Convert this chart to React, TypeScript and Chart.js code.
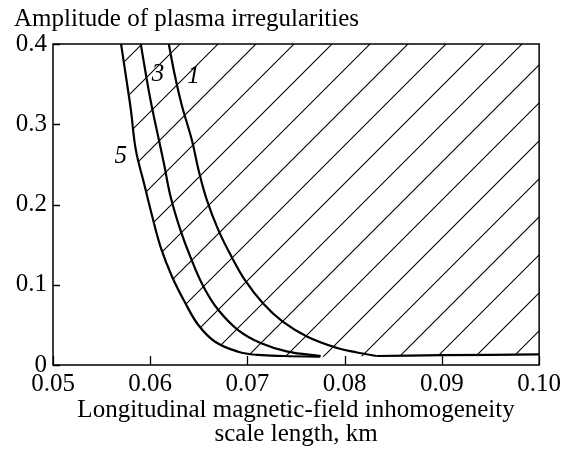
import React, { useEffect, useRef } from 'react';
import { Chart, registerables } from 'chart.js';

Chart.register(...registerables);

// Curve 5 (leftmost envelope)
const curve5X = [0.05700, 0.05751, 0.05801, 0.05852, 0.05937, 0.06021, 0.06107, 0.06225, 0.06362, 0.06497, 0.06667, 0.06904, 0.07108, 0.07380, 0.07749];
const curve5Y = [0.400, 0.359, 0.318, 0.268, 0.226, 0.185, 0.147, 0.110, 0.0769, 0.0495, 0.0290, 0.0166, 0.0125, 0.0112, 0.0103];

// Curve 3
const curve3X = [0.05903, 0.05957, 0.06013, 0.06090, 0.06141, 0.06209, 0.06311, 0.06412, 0.06548, 0.06701, 0.06904, 0.07142, 0.07413, 0.07753];
const curve3Y = [0.400, 0.361, 0.324, 0.280, 0.251, 0.210, 0.168, 0.135, 0.0976, 0.0685, 0.0436, 0.0270, 0.0166, 0.0112];

// Curve 1
const curve1X = [0.06191, 0.06253, 0.06324, 0.06429, 0.06497, 0.06581, 0.06701, 0.06836, 0.06973, 0.07159, 0.07363, 0.07617, 0.07923, 0.08126, 0.08330];
const curve1Y = [0.400, 0.361, 0.324, 0.280, 0.243, 0.206, 0.168, 0.135, 0.106, 0.0769, 0.0540, 0.0353, 0.0212, 0.0156, 0.0112];

// Common low-amplitude branch
const baseX = [0.08330, 0.09000, 0.10000];
const baseY = [0.0112, 0.0122, 0.0132];

// Ticks
const xTickValues = [0.05, 0.06, 0.07, 0.08, 0.09, 0.10];
const xTickLabels = ['0.05', '0.06', '0.07', '0.08', '0.09', '0.10'];
const yTickValues = [0, 0.1, 0.2, 0.3, 0.4];
const yTickLabels = ['0', '0.1', '0.2', '0.3', '0.4'];

// Curve labels
const curveLabels = ['5', '3', '1'];
const curveLabelX = [0.05698, 0.06079, 0.06446];
const curveLabelY = [0.2604, 0.3626, 0.360];

const titleText = 'Amplitude of plasma irregularities';
const xTitle = ['Longitudinal magnetic-field inhomogeneity', 'scale length, km'];

const FONT = '"Liberation Serif", "Times New Roman", serif';
const FS = 25;

const toPts = (xs: number[], ys: number[]) => xs.map((x, i) => ({ x, y: ys[i] }));

function makeHatch(): CanvasPattern | string {
  const s = 38;
  const c = document.createElement('canvas');
  c.width = s;
  c.height = s;
  const g = c.getContext('2d');
  if (!g) return 'rgba(0,0,0,0)';
  g.strokeStyle = '#000';
  g.lineWidth = 1.1;
  const off = 18;
  g.beginPath();
  for (const k of [0, 1]) {
    const cc = off + s * k;
    g.moveTo(-2, cc + 2);
    g.lineTo(cc + 2, -2);
  }
  g.stroke();
  const p = g.createPattern(c, 'repeat');
  return p || 'rgba(0,0,0,0)';
}

const decorPlugin = {
  id: 'decor',
  afterDatasetsDraw(chart: any) {
    const { ctx, chartArea: a, scales } = chart;
    const x = scales.x;
    const y = scales.y;
    ctx.save();
    ctx.strokeStyle = '#000';
    ctx.lineWidth = 1.5;
    ctx.strokeRect(a.left, a.top, a.right - a.left, a.bottom - a.top);
    ctx.lineWidth = 1.3;
    ctx.beginPath();
    xTickValues.forEach((v) => {
      const px = Math.round(x.getPixelForValue(v)) + 0.5;
      ctx.moveTo(px, a.bottom);
      ctx.lineTo(px, a.bottom - 9);
    });
    yTickValues.forEach((v) => {
      const py = Math.round(y.getPixelForValue(v)) + 0.5;
      ctx.moveTo(a.left, py);
      ctx.lineTo(a.left + 7, py);
    });
    ctx.stroke();
    ctx.fillStyle = '#000';
    ctx.font = 'italic ' + FS + 'px ' + FONT;
    ctx.textAlign = 'center';
    ctx.textBaseline = 'middle';
    curveLabels.forEach((t, i) => {
      ctx.fillText(t, x.getPixelForValue(curveLabelX[i]), y.getPixelForValue(curveLabelY[i]));
    });
    ctx.restore();
  },
};

export default function App() {
  const ref = useRef<HTMLCanvasElement | null>(null);

  useEffect(() => {
    if (!ref.current) return;
    const hatch = makeHatch();
    const curveStyle = {
      borderColor: '#000',
      borderWidth: 2.2,
      pointRadius: 0,
      fill: false,
      tension: 0.4,
    };
    const chart = new Chart(ref.current, {
      type: 'line',
      data: {
        datasets: [
          {
            label: 'hatch',
            data: toPts([...curve5X, ...baseX], [...curve5Y, ...baseY]),
            borderWidth: 0,
            borderColor: 'rgba(0,0,0,0)',
            backgroundColor: hatch as any,
            pointRadius: 0,
            fill: 'end',
            tension: 0.4,
          },
          { label: '5', data: toPts(curve5X, curve5Y), ...curveStyle },
          { label: '3', data: toPts(curve3X, curve3Y), ...curveStyle },
          { label: '1', data: toPts(curve1X, curve1Y), ...curveStyle },
          { label: 'base', data: toPts(baseX, baseY), ...curveStyle },
        ],
      },
      options: {
        animation: false,
        responsive: true,
        maintainAspectRatio: false,
        layout: { padding: { left: 6, right: 21, top: 0, bottom: 0 } },
        plugins: {
          legend: { display: false },
          tooltip: { enabled: false },
          title: {
            display: true,
            text: titleText,
            align: 'start',
            color: '#000',
            font: { family: FONT, size: FS, weight: 'normal', lineHeight: 22 / FS },
            padding: { top: 0, bottom: 14 },
          },
        },
        scales: {
          x: {
            type: 'linear',
            min: 0.05,
            max: 0.1,
            afterBuildTicks: (s: any) => {
              s.ticks = xTickValues.map((v) => ({ value: v }));
            },
            afterFit: (s: any) => {
              s.height = 83;
            },
            grid: { display: false, drawTicks: false },
            border: { display: false },
            ticks: {
              color: '#000',
              padding: 4,
              maxRotation: 0,
              autoSkip: false,
              font: { family: FONT, size: FS },
              callback: (_v: any, i: number) => xTickLabels[i],
            },
            title: {
              display: true,
              text: xTitle,
              color: '#000',
              font: { family: FONT, size: FS, lineHeight: 24 / FS },
              padding: { top: 0, bottom: 2 },
            },
          },
          y: {
            type: 'linear',
            min: 0,
            max: 0.4,
            afterBuildTicks: (s: any) => {
              s.ticks = yTickValues.map((v) => ({ value: v }));
            },
            afterFit: (s: any) => {
              s.width = 39;
            },
            grid: { display: false, drawTicks: false },
            border: { display: false },
            ticks: {
              color: '#000',
              padding: 6,
              autoSkip: false,
              font: { family: FONT, size: FS },
              callback: (_v: any, i: number) => yTickLabels[i],
            },
          },
        },
      },
      plugins: [decorPlugin],
    });
    return () => chart.destroy();
  }, []);

  return (
    <div style={{ width: 557, height: 440, position: 'relative' }}>
      <canvas ref={ref} style={{ display: 'block' }} />
    </div>
  );
}
